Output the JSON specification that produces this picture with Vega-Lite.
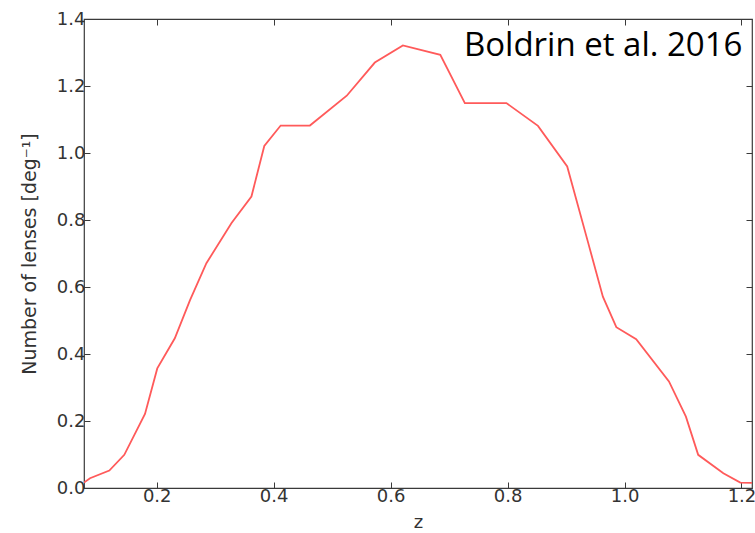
{
  "$schema": "https://vega.github.io/schema/vega-lite/v6.json",
  "autosize": "none",
  "width": 668,
  "height": 469,
  "padding": {"left": 84, "top": 19, "right": 3, "bottom": 45},
  "background": "white",
  "config": {
    "view": {"stroke": "#3a3a3a", "strokeWidth": 1.2},
    "axis": {
      "labelFont": "DejaVu Sans",
      "titleFont": "DejaVu Sans",
      "labelFontSize": 18,
      "titleFontSize": 18,
      "labelColor": "#333333",
      "titleColor": "#333333",
      "titleFontWeight": "normal",
      "grid": false,
      "domain": false,
      "tickColor": "#3a3a3a",
      "tickSize": -6,
      "labelPadding": 5
    }
  },
  "datasets": {
    "curve": [
      {"z": 0.0757, "n": 0.016},
      {"z": 0.086, "n": 0.029},
      {"z": 0.119, "n": 0.052},
      {"z": 0.1446, "n": 0.099},
      {"z": 0.180, "n": 0.221},
      {"z": 0.201, "n": 0.357},
      {"z": 0.231, "n": 0.447},
      {"z": 0.257, "n": 0.561},
      {"z": 0.285, "n": 0.671},
      {"z": 0.328, "n": 0.791},
      {"z": 0.362, "n": 0.870},
      {"z": 0.384, "n": 1.021},
      {"z": 0.412, "n": 1.082},
      {"z": 0.462, "n": 1.082},
      {"z": 0.525, "n": 1.171},
      {"z": 0.573, "n": 1.270},
      {"z": 0.621, "n": 1.321},
      {"z": 0.685, "n": 1.293},
      {"z": 0.727, "n": 1.149},
      {"z": 0.798, "n": 1.149},
      {"z": 0.852, "n": 1.081},
      {"z": 0.902, "n": 0.960},
      {"z": 0.938, "n": 0.731},
      {"z": 0.963, "n": 0.571},
      {"z": 0.986, "n": 0.480},
      {"z": 1.020, "n": 0.444},
      {"z": 1.076, "n": 0.318},
      {"z": 1.105, "n": 0.213},
      {"z": 1.126, "n": 0.099},
      {"z": 1.169, "n": 0.044},
      {"z": 1.198, "n": 0.016},
      {"z": 1.218, "n": 0.015}
    ],
    "note": [
      {"z": 1.2017, "n": 1.291, "label": "Boldrin et al. 2016"}
    ]
  },
  "layer": [
    {
      "data": {"name": "curve"},
      "mark": {"type": "line", "color": "#ff5a5a", "strokeWidth": 1.8, "clip": true},
      "encoding": {
        "x": {
          "field": "z", "type": "quantitative",
          "scale": {"domain": [0.0757, 1.218], "nice": false, "zero": false},
          "axis": {"orient": "bottom", "title": "z", "values": [0.2, 0.4, 0.6, 0.8, 1.0, 1.2], "format": ".1f", "titlePadding": 8}
        },
        "y": {
          "field": "n", "type": "quantitative",
          "scale": {"domain": [0, 1.4], "nice": false},
          "axis": {"orient": "left", "title": "Number of lenses [deg⁻¹]", "titleFontSize": 19, "values": [0, 0.2, 0.4, 0.6, 0.8, 1.0, 1.2, 1.4], "format": ".1f", "titlePadding": 17}
        }
      }
    },
    {
      "data": {"name": "curve"},
      "mark": {"type": "line", "opacity": 0},
      "encoding": {
        "x": {"field": "z", "type": "quantitative", "axis": {"orient": "top", "title": null, "labels": false, "values": [0.2, 0.4, 0.6, 0.8, 1.0, 1.2]}},
        "y": {"field": "n", "type": "quantitative", "axis": {"orient": "right", "title": null, "labels": false, "values": [0, 0.2, 0.4, 0.6, 0.8, 1.0, 1.2, 1.4]}}
      }
    },
    {
      "data": {"name": "note"},
      "mark": {"type": "text", "align": "right", "baseline": "alphabetic", "font": "Open Sans", "fontSize": 33, "color": "#000000"},
      "encoding": {
        "x": {"field": "z", "type": "quantitative", "axis": null},
        "y": {"field": "n", "type": "quantitative", "axis": null},
        "text": {"field": "label"}
      }
    }
  ],
  "resolve": {"axis": {"x": "independent", "y": "independent"}}
}
